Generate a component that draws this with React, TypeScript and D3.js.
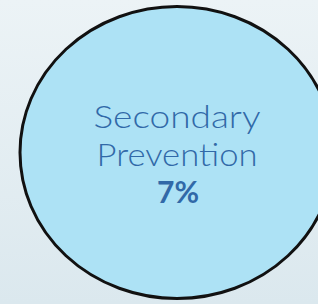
import React from "react";
import * as d3 from "d3";

const W = 318;
const H = 304;

const categoryLines = ["Secondary", "Prevention"];
const values = [7];

export default function App() {
  const cx = 177;
  const cy = 152.5;
  const rx = 157;
  const ry = 146;
  const fmt = d3.format(".0f");
  const lineY = d3.scaleLinear().domain([0, 1, 2]).range([128, 166, 203]);
  const widths = [167, 161];
  return (
    <svg
      width={W}
      height={H}
      style={{ position: "absolute", left: 0, top: 0, display: "block" }}
    >
      <defs>
        <linearGradient id="bg" x1="0" y1="0" x2="0" y2="1">
          <stop offset="0%" stopColor="#ecf3f6" />
          <stop offset="100%" stopColor="#dbe8ee" />
        </linearGradient>
      </defs>
      <rect x={0} y={0} width={W} height={H} fill="url(#bg)" />
      <ellipse
        cx={cx}
        cy={cy}
        rx={rx}
        ry={ry}
        fill="#ade2f5"
        stroke="#111111"
        strokeWidth={3}
      />
      <g fontFamily="Lato, 'Open Sans', sans-serif" fill="#3169a8" textAnchor="middle">
        {categoryLines.map((t, i) => (
          <text
            key={t}
            x={cx}
            y={lineY(i)}
            fontSize={31}
            fontWeight={300}
            textLength={widths[i]}
            lengthAdjust="spacingAndGlyphs"
          >
            {t}
          </text>
        ))}
        <text
          x={178}
          y={lineY(2)}
          fontSize={30}
          fontWeight="bold"
          textLength={42}
          lengthAdjust="spacingAndGlyphs"
        >
          {fmt(values[0])}%
        </text>
      </g>
    </svg>
  );
}
